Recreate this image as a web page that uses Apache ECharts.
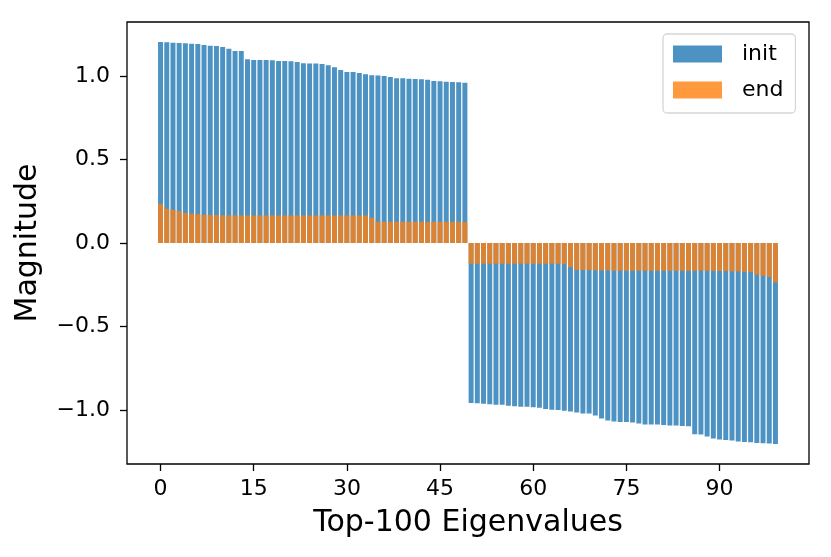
<!DOCTYPE html>
<html>
<head>
<meta charset="utf-8">
<script src="https://cdn.jsdelivr.net/npm/echarts@6/dist/echarts.min.js"></script>
<style>
  html, body { margin: 0; padding: 0; background: #fff; }
  #main { width: 831px; height: 557px; }
</style>
</head>
<body>
<div id="main"></div>
<script>
// eigenvalue magnitudes, index 0..99
var initVals = [
  1.203, 1.202, 1.199, 1.197, 1.196, 1.193, 1.191, 1.185, 1.181, 1.179,
  1.173, 1.163, 1.150, 1.150, 1.100, 1.096, 1.096, 1.096, 1.094, 1.090,
  1.090, 1.088, 1.084, 1.076, 1.074, 1.074, 1.072, 1.064, 1.052, 1.036,
  1.024, 1.024, 1.018, 1.010, 1.004, 1.002, 1.000, 0.994, 0.986, 0.986,
  0.984, 0.982, 0.980, 0.978, 0.970, 0.968, 0.966, 0.964, 0.962, 0.960,
  -0.958, -0.960, -0.962, -0.966, -0.968, -0.968, -0.975, -0.978, -0.980, -0.981,
  -0.984, -0.987, -0.993, -0.998, -1.000, -1.004, -1.008, -1.014, -1.020, -1.020,
  -1.033, -1.050, -1.062, -1.069, -1.071, -1.071, -1.075, -1.081, -1.086, -1.086,
  -1.087, -1.089, -1.093, -1.093, -1.095, -1.097, -1.145, -1.147, -1.159, -1.171,
  -1.177, -1.179, -1.183, -1.189, -1.191, -1.193, -1.197, -1.199, -1.201, -1.203
];
var endVals = [
  0.234, 0.205, 0.199, 0.191, 0.179, 0.175, 0.173, 0.169, 0.167, 0.167,
  0.165, 0.165, 0.165, 0.165, 0.165, 0.165, 0.165, 0.165, 0.165, 0.165,
  0.165, 0.165, 0.165, 0.165, 0.165, 0.165, 0.165, 0.165, 0.165, 0.165,
  0.165, 0.165, 0.165, 0.165, 0.151, 0.127, 0.127, 0.127, 0.127, 0.127,
  0.127, 0.127, 0.127, 0.127, 0.127, 0.127, 0.127, 0.127, 0.127, 0.125,
  -0.124, -0.124, -0.124, -0.124, -0.124, -0.124, -0.124, -0.124, -0.124, -0.124,
  -0.124, -0.124, -0.124, -0.124, -0.124, -0.126, -0.144, -0.162, -0.162, -0.162,
  -0.164, -0.164, -0.164, -0.166, -0.166, -0.166, -0.166, -0.166, -0.166, -0.166,
  -0.166, -0.166, -0.166, -0.166, -0.166, -0.166, -0.166, -0.166, -0.166, -0.166,
  -0.168, -0.168, -0.170, -0.170, -0.172, -0.174, -0.190, -0.196, -0.204, -0.236
];
var seriesNames = ['init', 'end'];
var xTicks = [0, 15, 30, 45, 60, 75, 90];
var yTicks = [-1.0, -0.5, 0.0, 0.5, 1.0];

// axes box in pixels and its data range
var W = 831, H = 557;
var box = { left: 127, top: 22, right: 809, bottom: 464 };
var xMin = -5.4, xMax = 104.4;
var yMin = -1.323, yMax = 1.323;
var pxX = (box.right - box.left) / (xMax - xMin);
var pxY = (box.bottom - box.top) / (yMax - yMin);

// second grid only carries the ticks, spanning exactly the tick range
var tLeft = box.left + (xTicks[0] - xMin) * pxX;
var tRight = box.left + (xTicks[xTicks.length - 1] - xMin) * pxX;
var tTop = box.top + (yMax - yTicks[yTicks.length - 1]) * pxY;
var tBottom = box.top + (yMax - yTicks[0]) * pxY;

var font = 'DejaVu Sans';

function pairs(vals) {
  return vals.map(function (v, i) { return [i, v]; });
}

var myChart = echarts.init(document.getElementById('main'));
var option = {
  animation: false,
  backgroundColor: '#fff',
  color: ['#1f77b4', '#ff7f0e'],
  textStyle: { fontFamily: font, color: '#000' },
  grid: [
    {
      left: box.left, top: box.top, right: W - box.right, bottom: H - box.bottom,
      show: true, borderColor: '#000', borderWidth: 1.3, backgroundColor: 'transparent'
    },
    {
      left: tLeft, top: tTop, right: W - tRight, bottom: H - tBottom,
      show: false
    }
  ],
  legend: {
    orient: 'vertical',
    left: 663, top: 34,
    data: seriesNames,
    itemWidth: 49, itemHeight: 17, itemGap: 14,
    padding: [9, 12, 12, 10],
    borderColor: '#d6d6d6', borderWidth: 1.3, borderRadius: 4,
    backgroundColor: 'rgba(255,255,255,0.8)',
    icon: 'rect',
    textStyle: { fontFamily: font, fontSize: 22, color: '#000', padding: [0, 0, 0, 15] }
  },
  xAxis: [
    {
      gridIndex: 0, type: 'value', min: xMin, max: xMax,
      axisLine: { show: false, onZero: false }, axisTick: { show: false },
      axisLabel: { show: false }, splitLine: { show: false },
      name: 'Top-100 Eigenvalues', nameLocation: 'middle', nameGap: 44,
      nameTextStyle: { fontFamily: font, fontSize: 30, color: '#000' }
    },
    {
      gridIndex: 1, type: 'value', min: xTicks[0], max: xTicks[xTicks.length - 1],
      interval: xTicks[1] - xTicks[0],
      position: 'bottom',
      offset: box.bottom - tBottom,
      axisLine: { show: false, onZero: false },
      axisTick: { show: true, length: 7, lineStyle: { color: '#000', width: 1.3 } },
      axisLabel: { fontFamily: font, fontSize: 22, color: '#000', margin: 14 },
      splitLine: { show: false }
    }
  ],
  yAxis: [
    {
      gridIndex: 0, type: 'value', min: yMin, max: yMax,
      axisLine: { show: false, onZero: false }, axisTick: { show: false },
      axisLabel: { show: false }, splitLine: { show: false },
      name: 'Magnitude', nameLocation: 'middle', nameGap: 84, nameRotate: 90,
      nameTextStyle: { fontFamily: font, fontSize: 30, color: '#000' }
    },
    {
      gridIndex: 1, type: 'value', min: yTicks[0], max: yTicks[yTicks.length - 1],
      interval: yTicks[1] - yTicks[0],
      position: 'left',
      offset: tLeft - box.left,
      axisLine: { show: false, onZero: false },
      axisTick: { show: true, length: 7, lineStyle: { color: '#000', width: 1.3 } },
      axisLabel: {
        fontFamily: font, fontSize: 22, color: '#000', margin: 17,
        formatter: function (v) {
          var s = Math.abs(v).toFixed(1);
          return v < 0 ? '\u2212' + s : s;
        }
      },
      splitLine: { show: false }
    }
  ],
  series: [
    {
      name: seriesNames[0], type: 'bar', xAxisIndex: 0, yAxisIndex: 0,
      data: pairs(initVals), barWidth: 0.8 * pxX, barGap: '-100%',
      itemStyle: { opacity: 0.8 }
    },
    {
      name: seriesNames[1], type: 'bar', xAxisIndex: 0, yAxisIndex: 0,
      data: pairs(endVals), barWidth: 0.8 * pxX, barGap: '-100%',
      itemStyle: { opacity: 0.8 }
    }
  ]
};
myChart.setOption(option);
</script>
</body>
</html>
